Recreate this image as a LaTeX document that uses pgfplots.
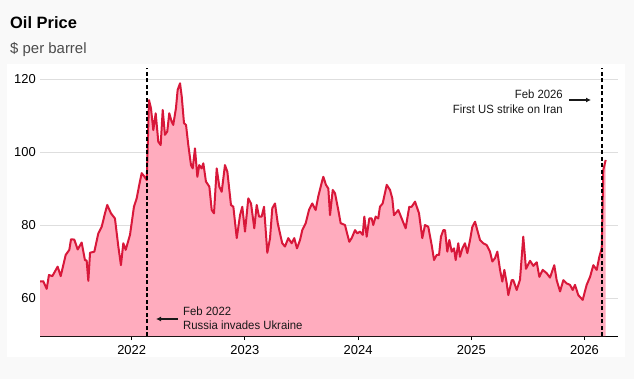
\documentclass[border=0pt]{standalone}
\usepackage{fontspec}
\setmainfont{Liberation Sans}
\newfontfamily\condf[FakeStretch=0.95]{Liberation Sans}
\usepackage{pgfplots}
\pgfplotsset{compat=1.18}
\usepackage{pgfplotstable}
\usetikzlibrary{arrows.meta}
\definecolor{bggray}{RGB}{249,249,249}
\definecolor{oilline}{RGB}{216,24,58}
\definecolor{oilfill}{RGB}{255,172,190}
\definecolor{gridc}{RGB}{222,222,222}
\definecolor{subc}{RGB}{75,75,75}
\definecolor{annc}{RGB}{25,25,25}

\pgfplotstableread{
year price
2021.181 64.5
2021.219 64.6
2021.249 62.5
2021.269 66.3
2021.299 66.0
2021.346 68.6
2021.373 66.0
2021.417 71.8
2021.449 73.2
2021.464 76.1
2021.493 76.0
2021.523 73.3
2021.558 75.2
2021.587 70.4
2021.602 70.3
2021.617 64.7
2021.632 72.4
2021.670 72.7
2021.705 77.7
2021.735 79.5
2021.764 83.2
2021.784 85.5
2021.817 83.2
2021.852 81.8
2021.882 74.1
2021.905 69.0
2021.926 75.0
2021.947 73.2
2021.985 77.3
2022.020 85.0
2022.044 87.3
2022.067 91.0
2022.088 94.2
2022.109 93.4
2022.133 92.3
2022.153 114.2
2022.170 112.0
2022.191 106.0
2022.212 110.6
2022.235 102.8
2022.256 101.9
2022.274 111.5
2022.294 104.7
2022.314 105.6
2022.332 110.6
2022.353 108.3
2022.367 107.4
2022.391 112.0
2022.406 117.0
2022.427 118.8
2022.442 115.2
2022.462 107.9
2022.480 107.4
2022.500 101.9
2022.524 96.4
2022.539 95.5
2022.559 101.0
2022.580 93.2
2022.597 96.4
2022.618 95.5
2022.633 96.9
2022.656 91.9
2022.686 90.5
2022.707 84.1
2022.727 83.2
2022.751 95.5
2022.774 90.5
2022.795 89.1
2022.824 96.4
2022.845 94.6
2022.877 85.5
2022.898 85.0
2022.928 76.4
2022.957 82.7
2022.977 85.0
2023.001 78.2
2023.030 87.3
2023.054 85.9
2023.083 79.1
2023.104 85.5
2023.125 82.3
2023.148 82.3
2023.169 85.0
2023.198 72.4
2023.222 76.4
2023.242 84.6
2023.266 85.9
2023.290 80.5
2023.310 77.7
2023.330 75.0
2023.354 74.1
2023.383 76.4
2023.413 75.0
2023.436 76.4
2023.460 73.6
2023.487 75.9
2023.507 78.6
2023.537 80.5
2023.566 84.1
2023.595 85.9
2023.625 84.1
2023.648 87.8
2023.684 92.3
2023.693 93.2
2023.716 91.0
2023.737 90.0
2023.752 82.7
2023.776 89.6
2023.796 88.7
2023.825 84.1
2023.846 80.5
2023.884 80.0
2023.922 75.4
2023.943 76.4
2023.973 78.6
2023.993 77.7
2024.017 78.2
2024.041 77.3
2024.055 82.3
2024.076 76.8
2024.099 81.8
2024.120 81.8
2024.134 80.0
2024.155 82.3
2024.178 81.8
2024.193 85.0
2024.217 85.9
2024.253 91.0
2024.282 89.6
2024.302 87.3
2024.317 82.7
2024.355 84.1
2024.385 81.8
2024.420 79.1
2024.452 85.0
2024.473 85.0
2024.503 86.4
2024.538 83.2
2024.567 76.4
2024.591 80.0
2024.620 79.5
2024.650 74.5
2024.671 70.4
2024.694 71.8
2024.715 71.8
2024.732 76.8
2024.753 78.6
2024.768 78.6
2024.788 72.7
2024.806 75.9
2024.827 72.7
2024.847 73.6
2024.862 70.4
2024.885 75.0
2024.900 71.3
2024.921 73.6
2024.944 75.0
2024.965 72.3
2024.989 75.9
2025.009 79.5
2025.033 80.9
2025.053 78.6
2025.077 75.9
2025.106 75.0
2025.136 74.5
2025.165 72.7
2025.186 70.0
2025.209 70.9
2025.230 72.7
2025.254 67.7
2025.274 64.5
2025.292 67.7
2025.313 64.0
2025.327 60.8
2025.357 64.9
2025.371 64.9
2025.401 62.2
2025.430 65.0
2025.459 76.8
2025.483 68.0
2025.519 70.2
2025.548 68.8
2025.578 69.8
2025.601 65.8
2025.631 67.7
2025.666 66.8
2025.695 65.6
2025.733 69.0
2025.754 64.9
2025.784 61.8
2025.813 64.9
2025.843 64.0
2025.872 63.6
2025.896 62.2
2025.916 63.6
2025.945 60.8
2025.984 59.5
2026.019 63.6
2026.049 65.8
2026.078 69.0
2026.108 67.7
2026.131 71.3
2026.152 73.6
2026.166 95.1
2026.187 97.8
}\oildata

\begin{document}
\begin{tikzpicture}[x=1bp,y=1bp]
\path[use as bounding box] (0,0) rectangle (634,379);
\fill[bggray] (0,0) rectangle (634,379);
\fill[white] (7,22) rectangle (625,315);
\node[anchor=base west, inner sep=0pt, font=\fontsize{16.5}{18}\selectfont\bfseries] at (10,351) {Oil Price};
\node[anchor=base west, inner sep=0pt, font=\fontsize{15}{17}\selectfont, text=subc] at (10,326) {\$ per barrel};
\begin{axis}[
  at={(40bp,43bp)}, anchor=south west, scale only axis,
  width=578bp, height=268bp,
  xmin=2021.19, xmax=2026.296, ymin=49.6, ymax=123,
  axis x line*=bottom, axis y line*=left,
  y axis line style={draw=none},
  x axis line style={black, line width=1bp, -},
  xtick={2022,2023,2024,2025,2026}, ytick={60,80,100,120},
  ytick style={draw=none}, xtick style={black, line width=1bp},
  tick align=outside, major tick length=4bp,
  ymajorgrids, grid style={gridc, line width=0.8bp},
  /pgf/number format/1000 sep={}, /pgf/number format/assume math mode=true,
  ticklabel style={font=\fontsize{13}{13}\selectfont, inner sep=0pt, text=black},
  xticklabel style={anchor=north, yshift=-5bp},
  yticklabel style={anchor=east, xshift=0bp},
]
\addplot[draw=none, fill=oilfill] table[x=year, y=price] {\oildata} \closedcycle;
\addplot[oilline, line width=2bp, line join=round] table[x=year, y=price] {\oildata};
\draw[black, line width=1.5bp, dash pattern=on 4bp off 2.5bp] (axis cs:2022.135,49.6) -- (axis cs:2022.135,123);
\draw[black, line width=1.5bp, dash pattern=on 4bp off 2.5bp] (axis cs:2026.155,49.6) -- (axis cs:2026.155,123);
\end{axis}
% annotations
\draw[annc, line width=1.3bp, -{Latex[length=5bp,width=5bp]}] (178,60) -- (156,60);
\node[anchor=base west, inner sep=0pt, text=annc, font=\condf\fontsize{12}{13}\selectfont] at (183,64) {Feb 2022};
\node[anchor=base west, inner sep=0pt, text=annc, font=\condf\fontsize{12}{13}\selectfont] at (183,50) {Russia invades Ukraine};
\draw[annc, line width=1.3bp, -{Latex[length=5bp,width=5bp]}] (569,279) -- (591,279);
\node[anchor=base east, inner sep=0pt, text=annc, font=\condf\fontsize{12}{13}\selectfont] at (563,281) {Feb 2026};
\node[anchor=base east, inner sep=0pt, text=annc, font=\condf\fontsize{12}{13}\selectfont] at (563,266) {First US strike on Iran};
\end{tikzpicture}
\end{document}
